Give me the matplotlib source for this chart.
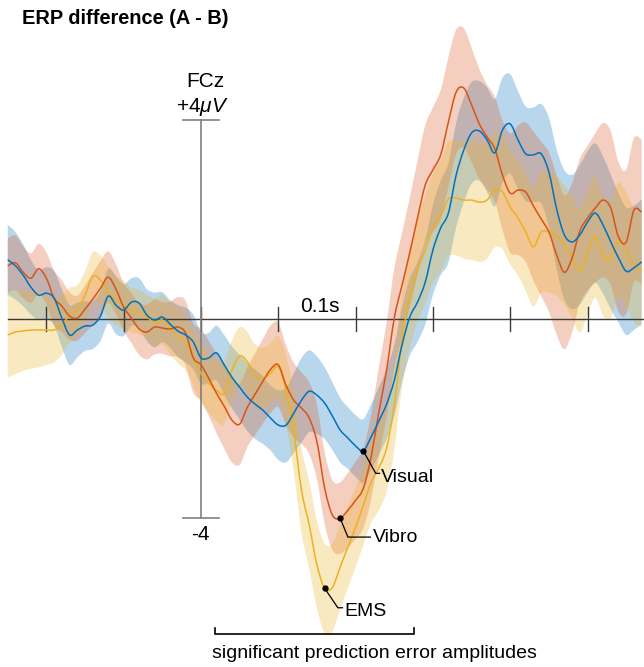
import matplotlib
matplotlib.use("Agg")
import matplotlib.pyplot as plt
import numpy as np
from matplotlib.path import Path
from matplotlib.patches import PathPatch

plt.rcParams["font.family"] = ["Liberation Sans", "DejaVu Sans"]
plt.rcParams["mathtext.fontset"] = "custom"
plt.rcParams["mathtext.rm"] = "Liberation Sans"
plt.rcParams["mathtext.it"] = "Liberation Sans:italic"

# FCz difference waves (A - B), microvolts, sampled every 5 ms
time_ms = np.arange(-125, 290, 5)

visual_mean = [
    1.19, 1.07, 0.88, 0.64, 0.48, 0.52,
    0.42, 0.02, -0.32, -0.22, -0.14, -0.12,
    0.06, 0.46, 0.28, 0.18, 0.34, 0.32,
    0.08, -0.02, 0.04, -0.10, -0.24, -0.32,
    -0.46, -0.78, -0.78, -0.68, -0.92, -1.17,
    -1.37, -1.57, -1.71, -1.83, -1.99, -2.13,
    -2.13, -1.89, -1.63, -1.45, -1.53, -1.69,
    -1.95, -2.23, -2.39, -2.55, -2.65, -2.37,
    -2.05, -1.71, -1.23, -0.52, 0.04, 0.34,
    0.74, 1.39, 1.83, 2.13, 2.89, 3.40,
    3.74, 3.78, 3.60, 3.34, 3.80, 3.92,
    3.60, 3.32, 3.30, 3.32, 2.95, 2.21,
    1.69, 1.55, 1.69, 1.95, 2.13, 1.89,
    1.55, 1.23, 0.96, 1.03, 1.15,
]
vibro_mean = [
    1.07, 1.13, 0.94, 0.82, 1.01, 0.82,
    0.42, 0.26, 0.06, 0.02, 0.20, 0.40,
    0.62, 0.84, 0.60, 0.24, 0.02, -0.20,
    -0.26, -0.16, -0.18, -0.20, -0.16, -0.28,
    -0.78, -0.92, -1.19, -1.49, -1.75, -2.03,
    -2.11, -1.77, -1.51, -1.25, -1.01, -0.92,
    -1.33, -1.63, -1.79, -1.99, -2.47, -3.40,
    -3.94, -4.00, -3.84, -3.64, -3.40, -2.77,
    -1.87, -1.03, 0.02, 0.68, 1.33, 2.03,
    2.69, 3.00, 3.30, 3.96, 4.56, 4.64,
    4.30, 3.92, 3.66, 3.42, 2.89, 2.53,
    2.59, 2.55, 2.27, 2.01, 1.75, 1.29,
    0.94, 1.23, 1.77, 2.03, 2.23, 2.39,
    2.23, 1.65, 1.55, 2.19, 2.15,
]
ems_mean = [
    -0.32, -0.26, -0.24, -0.22, -0.22, -0.22,
    -0.22, -0.12, 0.08, 0.18, 0.48, 0.86,
    0.78, 0.54, 0.38, 0.28, 0.18, 0.14,
    0.04, -0.06, -0.02, -0.18, -0.34, -0.48,
    -0.78, -1.09, -1.29, -1.43, -1.49, -1.03,
    -0.74, -0.86, -1.13, -1.19, -1.09, -0.96,
    -1.43, -2.27, -3.44, -4.14, -4.94, -5.41,
    -5.39, -4.98, -4.58, -4.18, -3.74, -3.28,
    -2.99, -2.59, -1.73, -0.42, 0.42, 0.98,
    1.39, 1.83, 2.07, 2.41, 2.43, 2.39,
    2.39, 2.35, 2.39, 2.59, 2.55, 2.25,
    2.03, 1.75, 1.45, 1.75, 1.75, 1.67,
    1.49, 1.23, 0.98, 1.33, 1.65, 1.27,
    1.19, 1.59, 1.39, 1.09, 0.98,
]

# half widths of the confidence bands
visual_ci = [
    0.70, 0.68, 0.62, 0.55, 0.50, 0.52,
    0.55, 0.58, 0.60, 0.55, 0.50, 0.48,
    0.50, 0.55, 0.58, 0.52, 0.48, 0.50,
    0.52, 0.55, 0.50, 0.48, 0.52, 0.55,
    0.55, 0.52, 0.50, 0.55, 0.60, 0.62,
    0.65, 0.68, 0.70, 0.68, 0.65, 0.70,
    0.75, 0.80, 0.85, 0.82, 0.78, 0.72,
    0.68, 0.65, 0.62, 0.62, 0.64, 0.66,
    0.68, 0.70, 0.72, 0.75, 0.78, 0.80,
    0.85, 0.90, 0.95, 1.00, 1.05, 1.05,
    1.02, 1.00, 1.05, 1.08, 1.05, 1.00,
    0.98, 0.95, 0.95, 1.00, 1.10, 1.20,
    1.30, 1.35, 1.40, 1.42, 1.40, 1.38,
    1.35, 1.30, 1.28, 1.25, 1.25,
]
vibro_ci = [
    0.55, 0.55, 0.52, 0.50, 0.50, 0.52,
    0.55, 0.52, 0.48, 0.45, 0.48, 0.52,
    0.55, 0.52, 0.50, 0.48, 0.50, 0.52,
    0.55, 0.55, 0.52, 0.55, 0.60, 0.65,
    0.70, 0.72, 0.75, 0.80, 0.85, 0.85,
    0.82, 0.80, 0.82, 0.85, 0.88, 0.85,
    0.80, 0.75, 0.72, 0.72, 0.75, 0.72,
    0.70, 0.72, 0.75, 0.78, 0.80, 0.85,
    0.90, 0.95, 1.00, 1.05, 1.10, 1.15,
    1.20, 1.25, 1.30, 1.30, 1.25, 1.20,
    1.15, 1.10, 1.05, 1.05, 1.10, 1.20,
    1.30, 1.40, 1.50, 1.55, 1.60, 1.60,
    1.55, 1.50, 1.45, 1.45, 1.50, 1.55,
    1.55, 1.50, 1.45, 1.45, 1.45,
]
ems_ci = [
    0.85, 0.85, 0.80, 0.78, 0.75, 0.70,
    0.65, 0.60, 0.55, 0.50, 0.48, 0.48,
    0.50, 0.52, 0.50, 0.48, 0.45, 0.45,
    0.45, 0.48, 0.50, 0.52, 0.55, 0.55,
    0.55, 0.58, 0.60, 0.62, 0.62, 0.60,
    0.58, 0.60, 0.62, 0.62, 0.60, 0.62,
    0.70, 0.80, 0.85, 0.88, 0.88, 0.90,
    0.88, 0.85, 0.82, 0.80, 0.80, 0.82,
    0.85, 0.88, 0.90, 0.95, 1.00, 1.05,
    1.08, 1.10, 1.12, 1.15, 1.15, 1.18,
    1.20, 1.20, 1.18, 1.15, 1.15, 1.15,
    1.15, 1.18, 1.20, 1.22, 1.22, 1.20,
    1.20, 1.22, 1.25, 1.25, 1.22, 1.20,
    1.18, 1.15, 1.15, 1.15, 1.15,
]

conditions = ["Visual", "Vibro", "EMS"]
means = [visual_mean, vibro_mean, ems_mean]
cis = [visual_ci, vibro_ci, ems_ci]
colors = ["#0072BD", "#D95319", "#EDB120"]

x_ticks = [-100, -50, 0, 50, 100, 150, 200, 250]
signif_window = [9, 138]


def curve_segments(x, y):
    """Cubic Bezier pieces (Catmull-Rom tangents) running through every sample."""
    pts = np.column_stack([x, y]).astype(float)
    n = len(pts)
    verts = []
    for i in range(n - 1):
        p0 = pts[max(i - 1, 0)]
        p1 = pts[i]
        p2 = pts[i + 1]
        p3 = pts[min(i + 2, n - 1)]
        verts += [p1 + (p2 - p0) / 6, p2 - (p3 - p1) / 6, p2]
    return pts[0], verts


def wave_path(x, y):
    start, verts = curve_segments(x, y)
    return Path([start] + verts, [Path.MOVETO] + [Path.CURVE4] * len(verts))


def band_path(x, lo, hi):
    s1, v1 = curve_segments(x, hi)
    s2, v2 = curve_segments(x[::-1], lo[::-1])
    verts = [s1] + v1 + [s2] + v2 + [s1]
    codes = ([Path.MOVETO] + [Path.CURVE4] * len(v1) + [Path.LINETO]
             + [Path.CURVE4] * len(v2) + [Path.CLOSEPOLY])
    return Path(verts, codes)


fig = plt.figure(figsize=(6.44, 6.67), dpi=100)
ax = fig.add_axes([0, 0, 1, 1])
ax.set_xlim(-130, 286.5)
ax.set_ylim(-6.99, 6.41)
ax.axis("off")

# shaded bands first, then the axes, then the mean waves on top
for m, ci, c in zip(means, cis, colors):
    m = np.array(m)
    ci = np.array(ci)
    ax.add_patch(PathPatch(band_path(time_ms, m - ci, m + ci), facecolor=c,
                           alpha=0.28, lw=0, zorder=1))

ax.plot([-125, 290], [0, 0], color="#3a3a3a", lw=1.0, zorder=3)
for t in x_ticks:
    ax.plot([t, t], [-0.24, 0.24], color="#3a3a3a", lw=1.0, zorder=3)

ax.plot([0, 0], [-4, 4], color="#7f7f7f", lw=1.2, zorder=3)
ax.plot([-11.6, 11.6], [4, 4], color="#7f7f7f", lw=1.2, zorder=3)
ax.plot([-11.6, 11.6], [-4, -4], color="#7f7f7f", lw=1.2, zorder=3)

for m, c in zip([ems_mean, vibro_mean, visual_mean], [colors[2], colors[1], colors[0]]):
    ax.add_patch(PathPatch(wave_path(time_ms, m), facecolor="none", edgecolor=c,
                           lw=1.1, zorder=4))

ax.text(2.6, 4.66, "FCz", fontsize=15, ha="center", va="baseline")
ax.text(0.6, 4.16, r"+4$\mathit{\mu V}$", fontsize=15, ha="center", va="baseline")
ax.text(-0.6, -4.44, "-4", fontsize=15, ha="center", va="baseline")
ax.text(77, 0.14, "0.1s", fontsize=15, ha="center", va="baseline")

# labelled minima with leader lines
label_offsets = {
    "Visual": [(113.0, -3.10), (115.5, -3.10), (116.5, -3.28)],
    "Vibro": [(95.0, -4.38), (109.5, -4.38), (111.0, -4.48)],
    "EMS": [(88.5, -5.80), (91.5, -5.80), (92.5, -5.97)],
}
for name, m in zip(conditions, means):
    i = int(np.argmin(m))
    t0, v0 = time_ms[i], m[i]
    (x1, y1), (x2, y2), (tx, ty) = label_offsets[name]
    ax.plot([t0, x1, x2], [v0, y1, y2], color="black", lw=0.9, zorder=5)
    ax.plot(t0, v0, "o", color="black", ms=3.5, zorder=6)
    ax.text(tx, ty, name, fontsize=14, ha="left", va="baseline")

# significance bracket
t_a, t_b = signif_window
ax.plot([t_a, t_a, t_b, t_b], [-6.21, -6.33, -6.33, -6.21], color="black", lw=1.2,
        solid_joinstyle="miter")
ax.text(t_a - 2, -6.81, "significant prediction error amplitudes",
        fontsize=14, ha="left", va="baseline")

fig.text(22 / 644, 1 - 24 / 667, "ERP difference (A - B)", fontsize=14.4,
         fontweight="bold", ha="left", va="baseline")

fig.savefig("out.png", dpi=100)
